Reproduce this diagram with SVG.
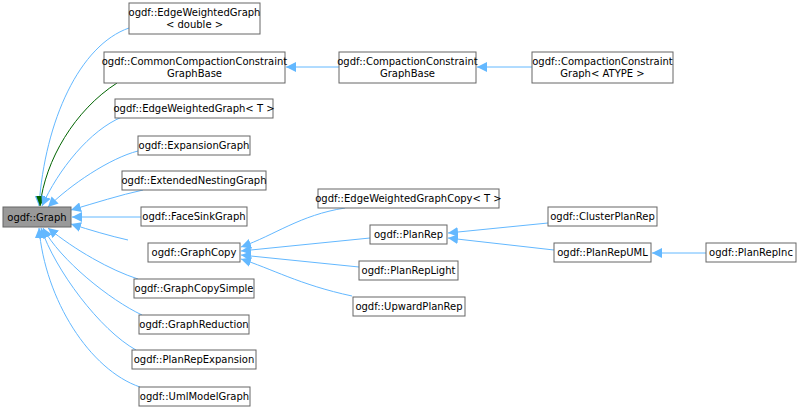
<svg xmlns="http://www.w3.org/2000/svg" width="800" height="411" viewBox="0 0 800 411">
<style>
.n rect{fill:#fff;stroke:#666;stroke-width:1}
.n text{font-family:"DejaVu Sans",sans-serif;font-size:10px;fill:#000;text-anchor:middle}
.e{fill:none;stroke:#63b8ff;stroke-width:1;marker-end:url(#a)}
.g{fill:none;stroke:#006400;stroke-width:1;marker-end:url(#ag)}
</style>
<defs>
<marker id="a" viewBox="0 0 10 10" refX="10" refY="5" markerWidth="10" markerHeight="10" markerUnits="userSpaceOnUse" orient="auto"><path d="M0,0L10,5L0,10z" fill="#63b8ff"/></marker>
<marker id="ag" viewBox="0 0 10 10" refX="10" refY="5" markerWidth="10" markerHeight="10" markerUnits="userSpaceOnUse" orient="auto"><path d="M0,0L10,5L0,10z" fill="#006400"/></marker>
</defs>
<rect width="800" height="411" fill="#fff"/>
<g id="edges">
<path class="e" d="M129,28C80,45 45,120 39,206"/>
<path class="g" d="M117,83C75,110 45,160 40,206"/>
<path class="e" d="M122,117C90,130 58,170 42,206"/>
<path class="e" d="M138,151C110,158 70,185 48,207"/>
<path class="e" d="M143,190C120,195 95,203 71,210"/>
<path class="e" d="M141,217L72,217"/>
<path class="e" d="M128,240C110,236 90,230 71,224"/>
<path class="e" d="M138,279C110,270 75,250 48,228"/>
<path class="e" d="M142,315C110,300 60,260 43,228"/>
<path class="e" d="M136,350C100,330 55,270 41,228"/>
<path class="e" d="M140,387C90,370 45,300 39,228"/>
<path class="e" d="M339,67L286,67"/>
<path class="e" d="M532,67L477,67"/>
<path class="e" d="M345,208C300,215 275,235 241,247"/>
<path class="e" d="M370,238L241,251"/>
<path class="e" d="M359,267L241,255"/>
<path class="e" d="M352,296C300,285 270,268 241,259"/>
<path class="e" d="M548,223L448,233"/>
<path class="e" d="M554,250L448,238"/>
<path class="e" d="M706,253L652,253"/>
</g>
<g id="Graph" class="n"><rect x="3" y="207" width="68" height="20" style="fill:#999"/><text x="37" y="221">ogdf::Graph</text></g>
<g id="EWGdouble" class="n"><rect x="129" y="3" width="131" height="31"/><text x="194.5" y="15.5">ogdf::EdgeWeightedGraph</text><text x="194.5" y="27.5">&lt; double &gt;</text></g>
<g id="CCCGB" class="n"><rect x="104" y="52" width="181" height="31"/><text x="194.5" y="64.5">ogdf::CommonCompactionConstraint</text><text x="194.5" y="76.5">GraphBase</text></g>
<g id="CCGB" class="n"><rect x="339" y="52" width="137" height="31"/><text x="407.5" y="64.5">ogdf::CompactionConstraint</text><text x="407.5" y="76.5">GraphBase</text></g>
<g id="CCG" class="n"><rect x="532" y="52" width="141" height="31"/><text x="602.5" y="64.5">ogdf::CompactionConstraint</text><text x="602.5" y="76.5">Graph&lt; ATYPE &gt;</text></g>
<g id="EWGT" class="n"><rect x="115" y="99" width="158" height="19"/><text x="194" y="112">ogdf::EdgeWeightedGraph&lt; T &gt;</text></g>
<g id="Expansion" class="n"><rect x="138" y="136" width="112" height="19"/><text x="194" y="149">ogdf::ExpansionGraph</text></g>
<g id="ENG" class="n"><rect x="122" y="171" width="144" height="19"/><text x="194" y="184">ogdf::ExtendedNestingGraph</text></g>
<g id="FSG" class="n"><rect x="141" y="207" width="106" height="19"/><text x="194" y="220">ogdf::FaceSinkGraph</text></g>
<g id="GC" class="n"><rect x="148" y="243" width="92" height="19"/><text x="194" y="256">ogdf::GraphCopy</text></g>
<g id="GCS" class="n"><rect x="134" y="279" width="120" height="19"/><text x="194" y="292">ogdf::GraphCopySimple</text></g>
<g id="GR" class="n"><rect x="139" y="315" width="110" height="19"/><text x="194" y="328">ogdf::GraphReduction</text></g>
<g id="PRE" class="n"><rect x="132" y="350" width="124" height="19"/><text x="194" y="363">ogdf::PlanRepExpansion</text></g>
<g id="UMG" class="n"><rect x="139" y="387" width="111" height="19"/><text x="194.5" y="400">ogdf::UmlModelGraph</text></g>
<g id="EWGC" class="n"><rect x="318" y="189" width="181" height="19"/><text x="408.5" y="202">ogdf::EdgeWeightedGraphCopy&lt; T &gt;</text></g>
<g id="PR" class="n"><rect x="370" y="225" width="77" height="19"/><text x="408.5" y="238">ogdf::PlanRep</text></g>
<g id="PRL" class="n"><rect x="359" y="261" width="99" height="19"/><text x="408.5" y="274">ogdf::PlanRepLight</text></g>
<g id="UPR" class="n"><rect x="353" y="297" width="112" height="19"/><text x="409" y="310">ogdf::UpwardPlanRep</text></g>
<g id="CPR" class="n"><rect x="548" y="207" width="109" height="19"/><text x="602.5" y="220">ogdf::ClusterPlanRep</text></g>
<g id="PRUML" class="n"><rect x="554" y="243" width="97" height="19"/><text x="602.5" y="256">ogdf::PlanRepUML</text></g>
<g id="PRI" class="n"><rect x="706" y="243" width="90" height="19"/><text x="751" y="256">ogdf::PlanRepInc</text></g>
</svg>
